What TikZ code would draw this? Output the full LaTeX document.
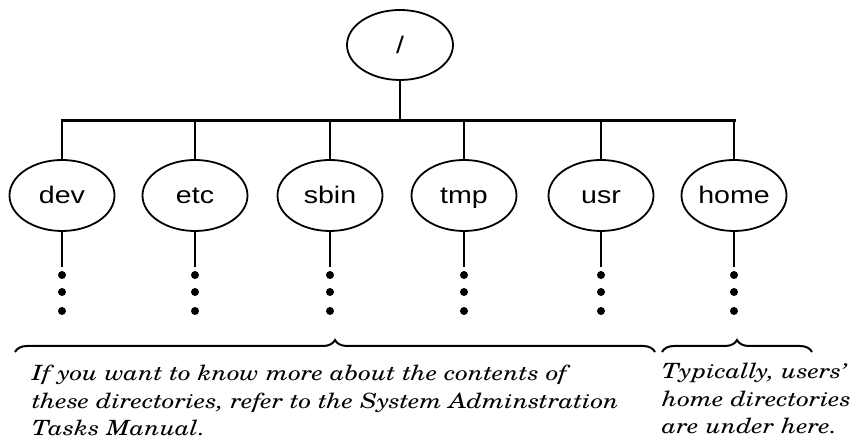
\documentclass[tikz,border=0pt]{standalone}
\usepackage{fontspec}
\setmainfont{texgyreschola}[Extension=.otf, UprightFont=*-regular, ItalicFont=*-italic,
  BoldFont=*-bold, BoldItalicFont=*-bolditalic, FakeStretch=1.2]
\setsansfont{Liberation Sans}[FakeStretch=1.19]
\usetikzlibrary{shapes.geometric,decorations.pathreplacing}

\tikzset{
  dir/.style={draw, ellipse, line width=1.8pt, minimum width=105pt, minimum height=71pt,
    inner sep=0pt, text height=17pt, text depth=0pt,
    font=\sffamily\fontsize{24}{24}\selectfont},
  tak/.style={line width=2.4pt},
  rail/.style={line width=3pt, line cap=rect},
  accolade/.style={decorate, decoration={brace, amplitude=12pt}, line width=2pt},
  uitleg/.style={anchor=north west, inner sep=0pt, align=left,
    font=\itshape\fontsize{21}{27.5}\selectfont}
}

\begin{document}
\begin{tikzpicture}[x=1pt,y=1pt]
\useasboundingbox (0,0) rectangle (851,443);

% Wortel
\node[dir, minimum width=106pt, minimum height=70pt] (root) at (400,398) {/};

% Mappen onder de wortel, met stippen eronder
\foreach \naam/\x in {dev/62,etc/195,sbin/330,tmp/464,usr/601,home/734}{
  \node[dir] (\naam) at (\x,247.5) {\naam};
  \coordinate (rail-\naam) at (\x,322);
  \coordinate (eind-\naam) at (\x,176);
  \draw[tak] (\naam.north) -- (rail-\naam);
  \draw[tak] (\naam.south) -- (eind-\naam);
  \foreach \y in {168,151,132}
    \fill (\x,\y) circle (4pt);
}

% Horizontale rail
\draw[rail] (rail-dev) -- (rail-home);
\draw[tak] (root.south) -- (root.south |- rail-dev);

% Accolades
\draw[accolade] (15,91) -- (655,91);
\draw[accolade] (662,91) -- (812,91);

% Uitleg
\node[uitleg] (tekst1) at (32,78) {If you want to know more about the contents of\\
  these directories, refer to the System Adminstration\\
  Tasks Manual.};
\node[uitleg] (tekst2) at (662,80) {Typically, users'\\
  home directories\\
  are under here.};
\end{tikzpicture}
\end{document}
